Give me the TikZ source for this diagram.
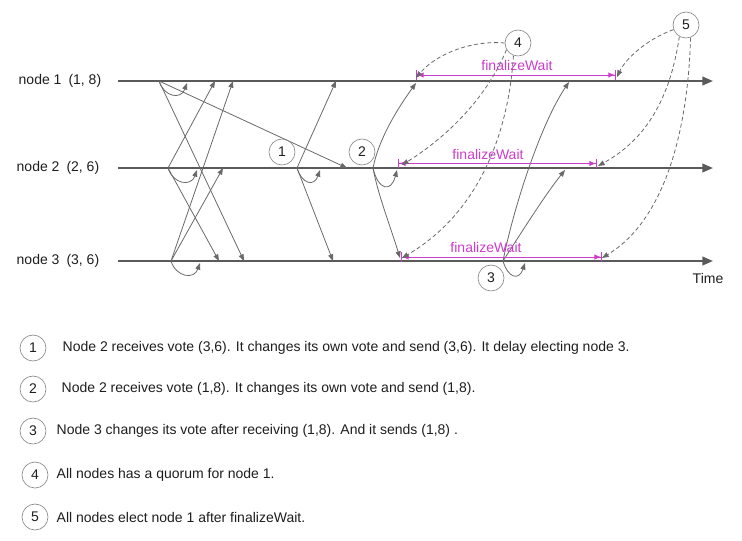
\documentclass[tikz,border=0pt]{standalone}
\usepackage{fontspec}
\setmainfont{Liberation Sans}
\usetikzlibrary{arrows.meta}

\definecolor{linegray}{RGB}{90,90,90}
\definecolor{msggray}{RGB}{105,105,105}
\definecolor{circlegray}{RGB}{135,135,135}
\definecolor{waitpink}{RGB}{205,60,205}
\definecolor{textgray}{RGB}{30,30,30}

\begin{document}
\begin{tikzpicture}[x=7.5pt, y=-7.5pt, font=\fontsize{10.5}{12}\selectfont, text=textgray,
    timeline/.style={draw=linegray, line width=1.5pt, -{Triangle[length=8pt,width=6.5pt]}},
    msg/.style={draw=msggray, line width=0.6pt, -{Triangle[length=5pt,width=3.8pt]}},
    quorum/.style={msg, dash pattern=on 3pt off 2pt},
    event/.style={circle, draw=circlegray, line width=0.5pt, minimum size=19.5pt, inner sep=0pt},
    waitbar/.style={draw=waitpink, line width=0.7pt, {Bar[width=7pt,line width=0.7pt]Latex[length=5pt,width=4pt]}-{Latex[length=5pt,width=4pt]Bar[width=7pt,line width=0.7pt]}},
    waitlabel/.style={text=waitpink}]

    % Canvas
    \useasboundingbox (0,0) rectangle (74.2,54);

    % Define coordinates for the timelines
    \coordinate (N1start) at (11.8, 8.1);
    \coordinate (N1end) at (71.3, 8.1);
    \coordinate (N2start) at (11.8, 16.8);
    \coordinate (N2end) at (71.3, 16.8);
    \coordinate (N3start) at (11.8, 26.1);
    \coordinate (N3end) at (71.3, 26.1);

    % Timelines and their labels
    \draw[timeline] (N1start) -- (N1end);
    \draw[timeline] (N2start) -- (N2end);
    \draw[timeline] (N3start) -- (N3end);
    \node[anchor=west] (lab1) at (1.4, 8.1) {node 1\enspace(1, 8)};
    \node[anchor=west] (lab2) at (1.2, 16.8) {node 2\enspace(2, 6)};
    \node[anchor=west] (lab3) at (1.2, 26.1) {node 3\enspace(3, 6)};
    \node (time) at (70.8, 27.8) {Time};

    % Straight vote messages (sender x/y -> receiver x/y)
    \foreach \sx/\sy/\tx/\ty in {15.9/8.1/34.7/16.8, 15.9/8.1/24.4/26.1,
                                 16.8/16.8/21.5/8.1, 16.8/16.8/21.9/26.1,
                                 17.1/26.1/23.3/8.1, 17.1/26.1/22.3/16.8,
                                 29.7/16.8/33.6/8.1, 29.7/16.8/33.3/26.1} {
        \coordinate (from) at (\sx, \sy);
        \coordinate (to) at (\tx, \ty);
        \draw[msg] (from) -- (to);
    }

    % Votes a node sends to itself
    \foreach \sx/\tx/\ly/\dep in {15.9/18.7/8.1/1.6, 16.8/19.7/16.8/1.6, 17.1/20.0/26.1/1.6,
                                  29.7/32.0/16.8/1.6, 37.3/39.7/16.8/2.2, 50.3/52.5/26.1/1.7} {
        \coordinate (from) at (\sx, \ly);
        \coordinate (to) at (\tx, \ly+0.2);
        \draw[msg] (from) .. controls (\sx+0.5, \ly+\dep) and (\tx-0.6, \ly+\dep+0.3) .. (to);
    }

    % Later votes, slightly bent
    \coordinate (S2) at (37.3, 16.8);
    \coordinate (S3) at (50.3, 26.1);
    \coordinate (R21) at (41.6, 8.3);
    \coordinate (R23) at (40.0, 25.8);
    \coordinate (R31) at (56.9, 8.2);
    \coordinate (R32) at (56.5, 17.0);
    \draw[msg] (S2) .. controls (37.9, 13.8) and (39.8, 10.8) .. (R21);
    \draw[msg] (S2) .. controls (37.8, 19.5) and (39.0, 22.5) .. (R23);
    \draw[msg] (S3) .. controls (51.3, 21.0) and (54.0, 12.5) .. (R31);
    \draw[msg] (S3) .. controls (52.3, 23.0) and (54.5, 19.5) .. (R32);

    % finalizeWait intervals
    \draw[waitbar] (41.6, 7.5) coordinate (W1a) -- (61.6, 7.5) coordinate (W1b);
    \draw[waitbar] (39.8, 16.35) coordinate (W2a) -- (59.7, 16.35) coordinate (W2b);
    \draw[waitbar] (40.1, 25.7) coordinate (W3a) -- (60.2, 25.7) coordinate (W3b);
    \node[waitlabel] (w1) at (51.7, 6.5) {finalizeWait};
    \node[waitlabel] (w2) at (48.8, 15.4) {finalizeWait};
    \node[waitlabel] (w3) at (48.6, 24.7) {finalizeWait};

    % Numbered events
    \node[event] (c1) at (28.2, 15.2) {1};
    \node[event] (c2) at (36.2, 15.2) {2};
    \node[event] (c3) at (49.1, 27.8) {3};
    \node[event] (c4) at (51.8, 4.3) {4};
    \node[event] (c5) at (68.6, 2.5) {5};

    % Quorum for node 1
    \coordinate (Q1) at (41.6, 7.8);
    \coordinate (Q2) at (40.2, 16.5);
    \coordinate (Q3) at (40.2, 25.8);
    \draw[quorum] (c4.west) .. controls (47.0, 4.0) and (43.5, 5.5) .. (Q1);
    \draw[quorum] (c4.210) .. controls (48.8, 9.5) and (45.0, 13.5) .. (Q2);
    \draw[quorum] (c4.250) .. controls (50.8, 14.0) and (47.5, 21.5) .. (Q3);

    % Elected after finalizeWait
    \coordinate (E1) at (61.7, 7.7);
    \coordinate (E2) at (59.8, 16.6);
    \coordinate (E3) at (60.2, 25.8);
    \draw[quorum] (c5.200) .. controls (64.5, 4.0) and (62.5, 6.0) .. (E1);
    \draw[quorum] (c5.240) .. controls (67.0, 10.0) and (64.5, 14.0) .. (E2);
    \draw[quorum] (c5.290) .. controls (68.8, 13.0) and (66.5, 22.0) .. (E3);

    % Legend
    \node[event] (l1) at (3.3, 34.8) {1};
    \node[event] (l2) at (3.3, 38.9) {2};
    \node[event] (l3) at (3.3, 43.1) {3};
    \node[event] (l4) at (3.5, 47.5) {4};
    \node[event] (l5) at (3.5, 51.7) {5};
    \node[anchor=west] (t1) at (5.8, 34.8) {Node 2 receives vote (3,6). It changes its own vote and send (3,6). It delay electing node 3.};
    \node[anchor=west] (t2) at (5.7, 38.9) {Node 2 receives vote (1,8). It changes its own vote and send (1,8).};
    \node[anchor=west] (t3) at (5.2, 43.1) {Node 3 changes its vote after receiving (1,8). And it sends (1,8) .};
    \node[anchor=west] (t4) at (5.2, 47.5) {All nodes has a quorum for node 1.};
    \node[anchor=west] (t5) at (5.2, 51.7) {All nodes elect node 1 after finalizeWait.};

\end{tikzpicture}
\end{document}
